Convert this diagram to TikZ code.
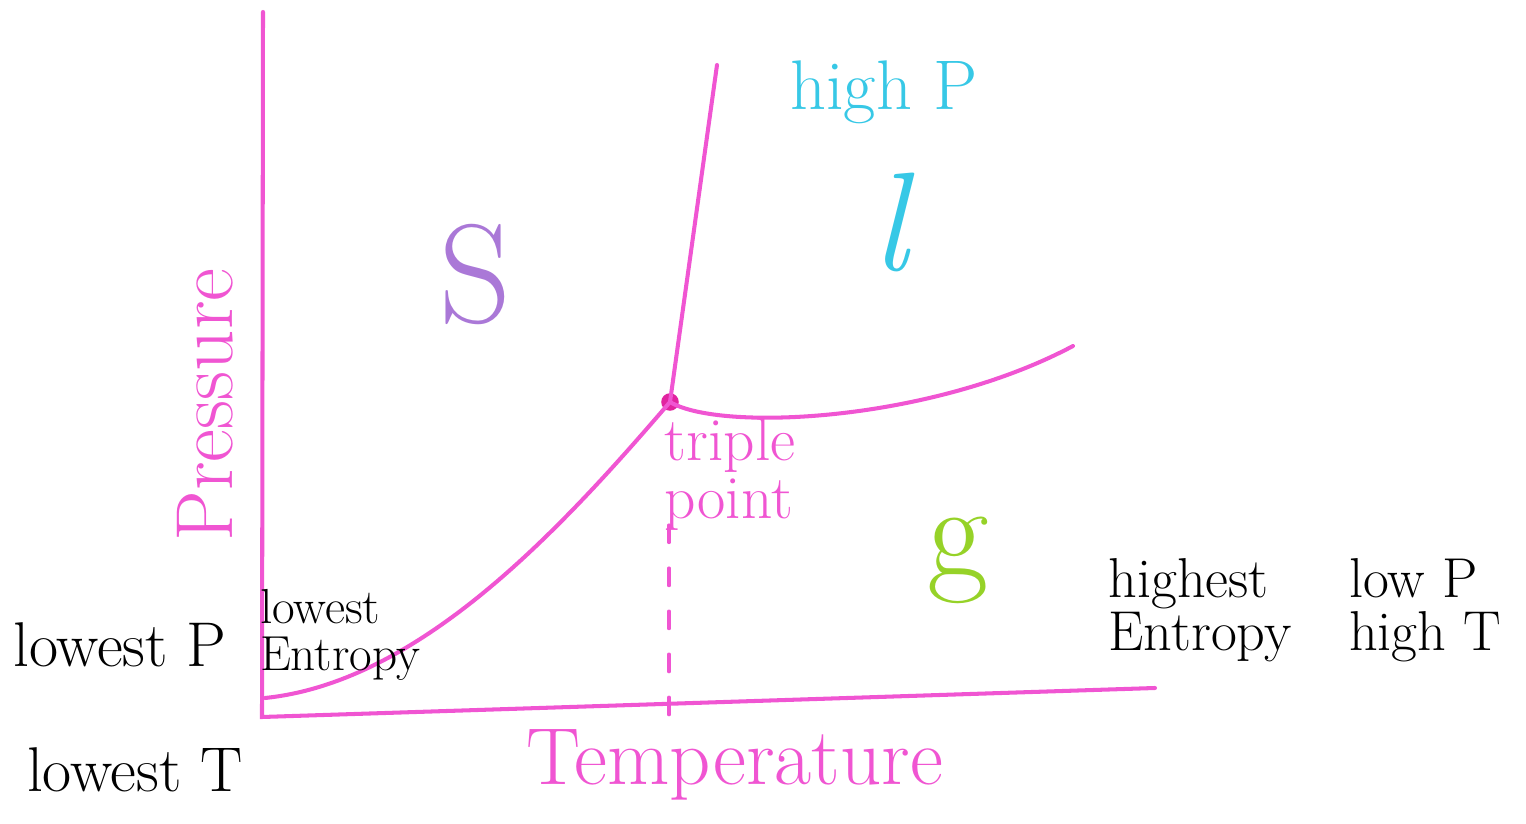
\documentclass[tikz,border=0pt]{standalone}
\usetikzlibrary{positioning}
\definecolor{phasepink}{RGB}{240,85,210}
\definecolor{dotpink}{RGB}{225,35,160}
\definecolor{liqcyan}{RGB}{55,200,230}
\definecolor{solpurple}{RGB}{170,120,215}
\definecolor{gasgreen}{RGB}{150,210,40}

\begin{document}
\begin{tikzpicture}[x=0.02cm, y=-0.02cm,
  phase line/.style={phasepink, line width=2.3pt, line cap=round},
  ink/.style={black, align=left, inner sep=0pt, font=\fontsize{32}{30}\selectfont},
  axis name/.style={phasepink, inner sep=0pt, font=\fontsize{46}{46}\selectfont},
  phase name/.style={inner sep=0pt, font=\fontsize{80}{80}\selectfont}]
\useasboundingbox (0,0) rectangle (1526,824);
% axes
\coordinate (ptop) at (263,12);
\coordinate (origin) at (262,717);
\coordinate (tend) at (1155,688);
\draw[phase line] (ptop) -- (origin) -- (tend);
% phase boundaries
\node[circle, fill=dotpink, inner sep=0pt, minimum size=10pt] (tp) at (670,402) {};
\coordinate (sgstart) at (265,698);
\coordinate (sltop) at (717,65);
\coordinate (lgend) at (1073,346);
\coordinate (tpfoot) at (669,716);
\draw[phase line] (sgstart) .. controls (420,682) and (560,530) .. (tp.center);
\draw[phase line] (tp.center) -- (sltop);
\draw[phase line] (tp.center) .. controls (720,432) and (930,422) .. (lgend);
\draw[phase line, line width=1.8pt, dash pattern=on 10pt off 14.5pt] (669,525) -- (tpfoot);
% labels
\node[axis name, rotate=90] (pres) at (205,405) {Pressure};
\node[axis name] (temp) at (735,765) {Temperature};
\node[phase name, solpurple] (solid) at (475,275) {S};
\node[phase name, liqcyan, font=\fontsize{80}{80}\selectfont\itshape] (liquid) at (890,222) {l};
\node[phase name, gasgreen, font=\fontsize{76}{76}\selectfont] (gas) at (958,560) {g};
\node[liqcyan, inner sep=0pt, font=\fontsize{40}{40}\selectfont] (highp) at (884,92) {high P};
\node[phasepink, align=left, inner sep=0pt, font=\fontsize{35}{33}\selectfont] (tplabel) at (730,474) {triple\\point};
\node[ink, font=\fontsize{36}{36}\selectfont] (lowp) at (120,645) {lowest P};
\node[ink, font=\fontsize{36}{36}\selectfont] (lowt) at (135,770) {lowest T};
\node[ink, font=\fontsize{28}{27}\selectfont] (lowent) at (340,635) {lowest\\Entropy};
\node[ink] (highent) at (1200,610) {highest\\Entropy};
\node[ink] (lowphight) at (1425,610) {low P\\high T};
\end{tikzpicture}
\end{document}
